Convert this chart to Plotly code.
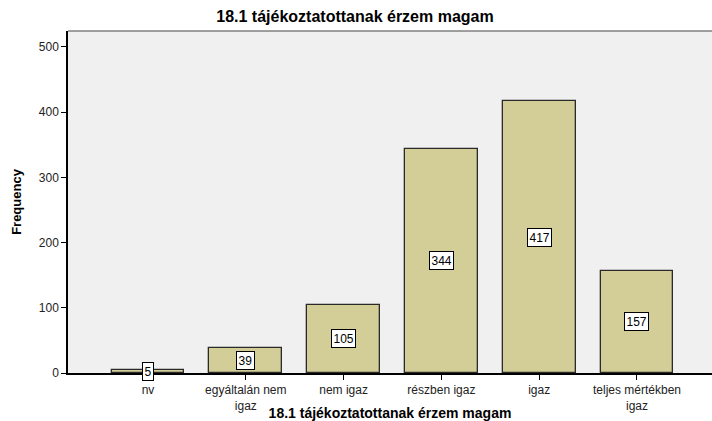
import plotly.graph_objects as go

categories = ["nv", "egyáltalán nem<br>igaz", "nem igaz", "részben igaz", "igaz", "teljes mértékben<br>igaz"]
frequencies = [5, 39, 105, 344, 417, 157]
y_ticks = [0, 100, 200, 300, 400, 500]
title_text = "18.1 tájékoztatottanak érzem magam"

x_pos = list(range(len(categories)))

fig = go.Figure()
fig.add_trace(go.Bar(
    x=x_pos, y=frequencies, width=0.746,
    marker=dict(color="#D3CE97", line=dict(color="#2a2a2a", width=1.3)),
    hoverinfo="x+y",
))

for xi, v in zip(x_pos, frequencies):
    fig.add_annotation(
        x=xi, y=v / 2, text=str(v), showarrow=False,
        font=dict(family="Liberation Sans, Arial", size=12, color="black"),
        bgcolor="white", bordercolor="black", borderwidth=1, borderpad=1.5,
    )

fig.update_layout(
    width=712, height=421,
    margin=dict(l=68, r=0, t=31, b=48),
    paper_bgcolor="white", plot_bgcolor="#F0F0F0",
    font=dict(family="Liberation Sans, Arial", size=12, color="black"),
    title=dict(text="<b>" + title_text + "</b>", x=355 / 712, xref="container", xanchor="center",
               y=1 - 16 / 421, yref="container", yanchor="middle",
               font=dict(size=16, color="black")),
    showlegend=False,
    bargap=0,
)
fig.update_xaxes(
    range=[-0.818, 5.767], tickvals=x_pos, ticktext=categories,
    ticks="outside", ticklen=5, tickcolor="black", showgrid=False, zeroline=False,
    showline=True, linecolor="black", linewidth=1.5, automargin=False,
    title=dict(text="<b>" + title_text + "</b>", font=dict(size=14), standoff=1),
    tickfont=dict(size=12, color="#222"),
)
fig.update_yaxes(
    range=[0, 524.5], tickvals=y_ticks, ticks="outside", ticklen=5, tickcolor="black",
    showgrid=False, zeroline=False, showline=True, linecolor="black", linewidth=1.5,
    automargin=False,
    title=dict(text="<b>Frequency</b>", font=dict(size=13), standoff=14),
    tickfont=dict(size=12, color="#222"),
)
fig.add_shape(type="line", xref="paper", yref="paper", x0=0, x1=1, y0=1, y1=1,
              line=dict(color="#808080", width=1.5))

fig.write_html("out.html", config={"displayModeBar": False},
               post_script="document.body.style.margin='0';document.body.style.overflow='hidden';")
